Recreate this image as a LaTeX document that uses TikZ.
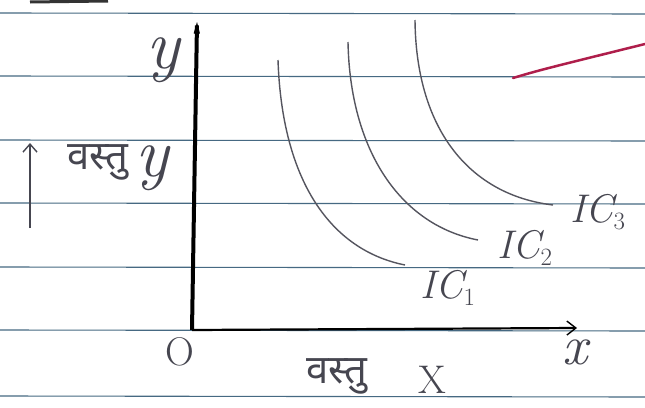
\documentclass[tikz,border=0pt]{standalone}
\usepackage{fontspec}
\newfontfamily\devfont[Script=Devanagari]{Noto Sans}
\usetikzlibrary{arrows.meta}
\definecolor{rule}{RGB}{70,105,130}
\definecolor{ink}{RGB}{70,70,80}
\definecolor{curve}{RGB}{85,85,95}
\definecolor{redpen}{RGB}{175,30,75}
\tikzset{
  ruleline/.style={draw=rule, line width=1.1pt},
  axis/.style={draw=black, line width=4pt},
  icurve/.style={draw=curve, line width=1.4pt},
  hand/.style={text=ink, inner sep=0pt},
  dev/.style={text=ink, font=\devfont\fontsize{40}{40}\selectfont, inner sep=0pt},
  barb/.style={-{Straight Barb[length=9pt,width=14pt,line width=1.4pt]}},
}
\begin{document}
\begin{tikzpicture}[x=1pt,y=-1pt]
\useasboundingbox (0,0) rectangle (645,407);
\fill[white] (0,0) rectangle (645,407);
% ruled lines
\foreach \yy in {13,76,140,203,267,330,396}
  \draw[ruleline] (0,\yy) -- (645,\yy+1);
% top-left pen stroke
\draw[draw=black!80, line width=3pt] (30,2) -- (108,1);
% axes
\coordinate (O) at (192,330);
\coordinate (ytop) at (197,22);
\coordinate (xend) at (577,328);
\draw[axis, -{Straight Barb[length=9pt,width=5pt,line width=1.4pt]}] (O) -- (ytop);
\draw[draw=black, line width=2.2pt, barb] (O) -- (xend);
\node[hand, font=\fontsize{40}{40}\selectfont] (olab) at (180,352) {O};
\node[hand, font=\itshape\fontsize{70}{70}\selectfont] (ylab) at (163,60) {y};
\node[hand, font=\itshape\fontsize{56}{56}\selectfont] (xlab) at (575,352) {x};
% indifference curves
\coordinate (a1) at (278,60);
\coordinate (b1) at (405,265);
\coordinate (a2) at (348,42);
\coordinate (b2) at (478,240);
\coordinate (a3) at (415,20);
\coordinate (b3) at (553,205);
\draw[icurve] (a1) .. controls (282,180) and (330,250) .. (b1);
\draw[icurve] (a2) .. controls (350,150) and (400,225) .. (b2);
\draw[icurve] (a3) .. controls (416,130) and (470,195) .. (b3);
\node[hand, font=\itshape\fontsize{40}{40}\selectfont] (ic1) at (448,288) {IC$_1$};
\node[hand, font=\itshape\fontsize{40}{40}\selectfont] (ic2) at (525,248) {IC$_2$};
\node[hand, font=\itshape\fontsize{40}{40}\selectfont] (ic3) at (598,212) {IC$_3$};
% left label
\coordinate (la) at (30,228);
\coordinate (lb) at (30,143);
\draw[draw=ink, line width=1.5pt, -{Straight Barb[length=8pt,width=14pt,line width=1.4pt]}] (la) -- (lb);
\node[dev] (goody) at (98,162) {वस्तु};
\node[hand, font=\itshape\fontsize{70}{70}\selectfont] (goodyl) at (152,168) {y};
% bottom label
\node[dev] (goodx) at (337,376) {वस्तु};
\node[hand, font=\fontsize{40}{40}\selectfont] (goodxl) at (432,380) {X};
% red pen stroke
\coordinate (r1) at (513,78);
\coordinate (r2) at (645,44);
\draw[draw=redpen, line width=2.5pt, line cap=round] (r1) .. controls (540,70) .. (r2);
\end{tikzpicture}
\end{document}
